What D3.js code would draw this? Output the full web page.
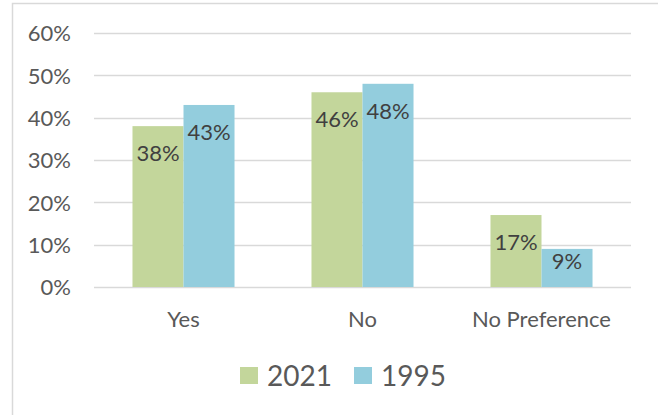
<!DOCTYPE html>
<html>
<head>
<meta charset="utf-8">
<script src="https://cdn.jsdelivr.net/npm/d3@7"></script>
<style>
  html, body { margin: 0; padding: 0; background: #fff; overflow: hidden; }
  svg { display: block; }
  text { font-family: Lato, "Open Sans", sans-serif; }
</style>
</head>
<body>
<svg id="chart" width="658" height="415"></svg>
<script>
const categories = ["Yes", "No", "No Preference"];
const seriesNames = ["2021", "1995"];
const values2021 = [0.38, 0.46, 0.17];
const values1995 = [0.43, 0.48, 0.09];
const yTicks = [0, 0.1, 0.2, 0.3, 0.4, 0.5, 0.6];
const colors = ["#c3d69b", "#93cddd"];

const seriesValues = [values2021, values1995];
const rows = categories.map((c, i) => ({
  cat: c,
  vals: seriesNames.map((s, j) => ({ series: s, idx: j, value: seriesValues[j][i] }))
}));

const svg = d3.select("#chart");

// chart frame
svg.append("rect")
  .attr("x", 12.5).attr("y", 3.5)
  .attr("width", 659).attr("height", 500)
  .attr("fill", "#fff").attr("stroke", "#d9d9d9").attr("stroke-width", 1.5);

const plot = { left: 94, right: 631, top: 33, bottom: 287 };

const x0 = d3.scaleBand().domain(categories)
  .range([plot.left, plot.right])
  .paddingInner(0.43).paddingOuter(0.215);
const x1 = d3.scaleBand().domain(seriesNames).range([0, x0.bandwidth()]).padding(0);
const y = d3.scaleLinear().domain([0, 0.6]).range([plot.bottom, plot.top]);

// gridlines
svg.append("g").selectAll("line").data(yTicks).join("line")
  .attr("x1", plot.left).attr("x2", plot.right)
  .attr("y1", d => Math.round(y(d)) + 0.5).attr("y2", d => Math.round(y(d)) + 0.5)
  .attr("stroke", "#d9d9d9").attr("stroke-width", 1.3);

// y axis labels
const yAxis = d3.axisLeft(y).tickValues(yTicks).tickFormat(d3.format(".0%")).tickSize(0).tickPadding(0);
const gy = svg.append("g").attr("transform", `translate(71,0)`).call(yAxis);
gy.select(".domain").remove();
gy.selectAll("text")
  .attr("fill", "#595959").style("font-size", "22px")
  .style("font-family", "Lato, 'Open Sans', sans-serif")
  .attr("dy", "0.36em").attr("x", 0);

// bars
const groups = svg.append("g").selectAll("g").data(rows).join("g")
  .attr("transform", d => `translate(${x0(d.cat)},0)`);

groups.selectAll("rect").data(d => d.vals).join("rect")
  .attr("x", d => x1(d.series))
  .attr("y", d => y(d.value))
  .attr("width", x1.bandwidth())
  .attr("height", d => y(0) - y(d.value))
  .attr("fill", d => colors[d.idx]);

// data labels (inside end)
groups.selectAll("text").data(d => d.vals).join("text")
  .attr("x", d => x1(d.series) + x1.bandwidth() / 2)
  .attr("y", d => {
    const h = y(0) - y(d.value);
    return y(d.value) + Math.min(35, h - 18);
  })
  .attr("text-anchor", "middle")
  .attr("fill", "#404040").style("font-size", "22px")
  .text(d => d3.format(".0%")(d.value));

// x axis labels
const xAxis = d3.axisBottom(x0).tickSize(0).tickPadding(0);
const gx = svg.append("g").attr("transform", `translate(0,${plot.bottom})`).call(xAxis);
gx.select(".domain").remove();
gx.selectAll("text")
  .attr("fill", "#595959").style("font-size", "22px")
  .style("font-family", "Lato, 'Open Sans', sans-serif")
  .attr("dy", null).attr("y", 40);

// legend
const legend = svg.append("g");
const legX = [240, 354];
seriesNames.forEach((s, i) => {
  const g = legend.append("g").attr("transform", `translate(${legX[i]},367)`);
  g.append("rect").attr("width", 18).attr("height", 17).attr("fill", colors[i]);
  g.append("text").attr("x", 27).attr("y", 19)
    .attr("fill", "#595959").style("font-size", "28px").text(s);
});
</script>
</body>
</html>
